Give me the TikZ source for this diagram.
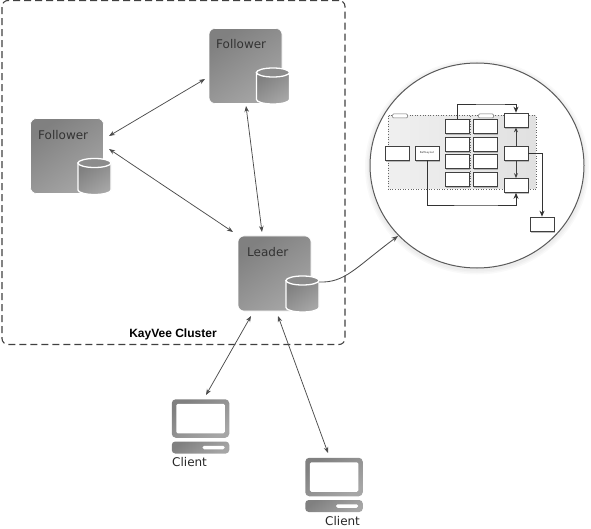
\documentclass[tikz,border=0pt]{standalone}
\usepackage{fontspec}
\setmainfont{DejaVu Sans}
\newfontfamily\boldlabel{Liberation Sans}
\usetikzlibrary{arrows.meta,shadows,shapes.geometric}
\definecolor{arrowgray}{gray}{0.3}
\tikzset{
  biarrow/.style={draw=arrowgray,line width=0.75pt,{Stealth[length=6pt,width=4.5pt]}-{Stealth[length=6pt,width=4.5pt]}},
  onearrow/.style={draw=arrowgray,line width=0.85pt,-{Stealth[length=6.5pt,width=5pt]}},
  shadegray/.style={top color=black!50,bottom color=black!35,shading angle=35},
  server/.style={inner sep=0pt,minimum width=73pt,minimum height=75pt,rounded corners=6pt,draw=white,line width=0.6pt,shadegray},
  servertext/.style={font=\fontsize{12}{14}\selectfont,text=black!80,inner sep=0pt},
  dbdisk/.pic={
    \path[shadegray,draw=white,line width=1.3pt] (-16.5,-13.5) -- (-16.5,13.5)
      arc[start angle=180,end angle=360,x radius=16.5pt,y radius=4.5pt] -- (16.5,-13.5) -- cycle;
    \path[fill=black!45,draw=white,line width=1.3pt] (0,-13.5) ellipse[x radius=16.5pt,y radius=4.5pt];
    \coordinate (-east) at (16.5,-12);
  },
  mini/.style={draw=black!75,fill=white,line width=0.7pt,minimum width=24pt,minimum height=14pt,inner sep=0pt,
    drop shadow={shadow xshift=0.7pt,shadow yshift=-1.6pt,opacity=0.5}},
  tab/.style={draw=black!55,fill=white,line width=0.5pt,minimum width=15pt,minimum height=4pt,inner sep=0pt,rounded corners=1pt},
  miniline/.style={draw=black!80,line width=0.75pt,-{Stealth[length=6pt,width=5pt]}},
  openline/.style={draw=black!75,line width=0.7pt,-{Stealth[length=5pt,width=4pt,open,fill=white]}},
  screenout/.style={shadegray,rounded corners=4pt,minimum width=57.5pt,minimum height=38.5pt,inner sep=0pt},
  screenin/.style={fill=white,rounded corners=1.5pt,minimum width=48.5pt,minimum height=29.5pt,inner sep=0pt},
  basebar/.style={shadegray,rounded corners=3.5pt,minimum width=57.5pt,minimum height=12pt,inner sep=0pt},
  slot/.style={fill=white,rounded corners=1.5pt,minimum width=22pt,minimum height=3.5pt,inner sep=0pt},
  clientlabel/.style={font=\fontsize{12}{14}\selectfont,text=black!85,inner sep=0pt},
  halo/.style={ellipse,fill=black,opacity=0.025,minimum width=#1,minimum height=#1-9pt,inner sep=0pt},
}
\begin{document}
\begin{tikzpicture}[x=1pt,y=-1pt]
\useasboundingbox (0,0) rectangle (591,529);
% cluster
\node[draw=black!75,line width=1.1pt,dash pattern=on 7pt off 4pt,rounded corners=6pt,minimum width=343pt,minimum height=344pt,inner sep=0pt] (cluster) at (173.5,172.5) {};
\node[font=\boldlabel\bfseries\fontsize{12}{14}\selectfont,inner sep=0pt] (clusterlabel) at (173,334) {KayVee Cluster};
% servers
\node[server] (f1) at (245.5,66) {};
\node[servertext,anchor=west] (f1t) at (216,44) {Follower};
\pic (f1d) at (273,86) {dbdisk};
\node[server] (f2) at (67,156) {};
\node[servertext,anchor=west] (f2t) at (38,135) {Follower};
\pic (f2d) at (94.5,176.5) {dbdisk};
\node[server] (ld) at (274.5,273.5) {};
\node[servertext,anchor=west] (ldt) at (247,252) {Leader};
\pic (ldd) at (302.5,294) {dbdisk};
% magnifier
\foreach \s in {224pt,221pt,218pt}{\node[halo=\s] at (477,167) {};}
\node[ellipse,draw=black!65,line width=1pt,fill=white,minimum width=214pt,minimum height=205pt,inner sep=0pt] (lens) at (477,165.5) {};
% arrows
\coordinate (a1) at (109,136); \coordinate (a2) at (205,79);
\coordinate (b1) at (109,149); \coordinate (b2) at (233,232);
\coordinate (c1) at (246,106); \coordinate (c2) at (262,232);
\coordinate (d1) at (251,316); \coordinate (d2) at (206,395);
\coordinate (e1) at (278,316); \coordinate (e2) at (328,453);
\draw[biarrow] (a1) -- (a2);
\draw[biarrow] (b1) -- (b2);
\draw[biarrow] (c1) -- (c2);
\draw[biarrow] (d1) -- (d2);
\draw[biarrow] (e1) -- (e2);
\coordinate (lensin) at (398,236);
\draw[onearrow] (ldd-east) .. controls (345,283) and (355,268) .. (lensin);
% inner drawing
\node[minimum width=148pt,minimum height=73pt,inner sep=0pt,left color=black!6,middle color=black!1,right color=black!12] (zone) at (462,152.5) {};
\draw[black!60,dotted,line width=0.6pt] (zone.north west) rectangle (zone.south east);
\draw[black!60,dotted,line width=0.6pt] (470,116) -- (470,189);
\node[tab] (t1) at (400,116) {};
\node[tab] (t2) at (486,116) {};
\node[mini] (a) at (397,153) {};
\node[mini,font=\fontsize{2.6}{3}\selectfont,text=black!80] (raft) at (427,153) {RaftLayout};
\foreach \n/\y in {1/126,2/144,3/161.5,4/179.5}{
  \node[mini] (p\n) at (457,\y) {};
  \node[mini] (q\n) at (485,\y) {};
}
\node[mini] (r1) at (516,120) {};
\node[mini] (r2) at (516,153) {};
\node[mini] (r3) at (516,185.5) {};
\node[mini] (far) at (542,224) {};
\draw[miniline] (p1.north) |- (494,104) -| (r1.north);
\draw[miniline] (raft.south) |- (480,205) -| (r3.south);
\draw[miniline] (r2.east) -| (far.north);
\draw[openline] (r2.north) -- (r1.south);
\draw[openline] (r2.south) -- (r3.north);
% clients
\node[screenout] (s1) at (200.5,418.5) {};
\node[screenin] (s1i) at (200.5,418.5) {};
\node[basebar] (b1n) at (200.5,447.5) {};
\node[slot] (sl1) at (213.5,447.5) {};
\node[clientlabel,anchor=west] (cl1) at (172,462) {Client};
\node[screenout] (s2) at (334,477) {};
\node[screenin] (s2i) at (334,477) {};
\node[basebar] (b2n) at (334,506) {};
\node[slot] (sl2) at (347,506) {};
\node[clientlabel,anchor=west] (cl2) at (325,521) {Client};
\end{tikzpicture}
\end{document}
